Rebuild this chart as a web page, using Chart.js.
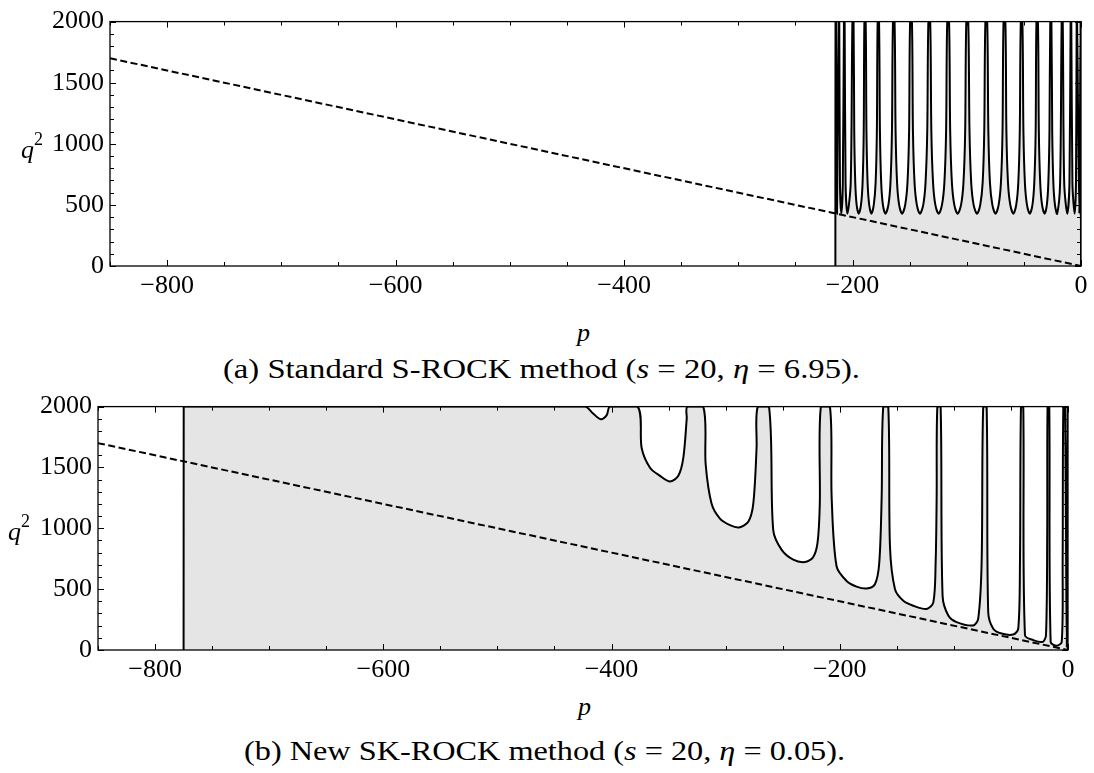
<!DOCTYPE html>
<html>
<head>
<meta charset="utf-8">
<title>S-ROCK / SK-ROCK mean-square stability regions</title>
<script src="https://cdn.jsdelivr.net/npm/chart.js@4.4.1/dist/chart.umd.min.js"></script>
<style>
  html, body { margin: 0; padding: 0; background: #fff; }
  body { position: relative; width: 1094px; height: 773px; overflow: hidden;
         font-family: "Liberation Serif", "Times New Roman", serif; color: #000; }
  canvas { position: absolute; left: 0; }
  #chartA { top: 0; }
  #chartB { top: 385px; }
  .txt { position: absolute; font-size: 26px; line-height: 26px; white-space: nowrap; }
  .txt sup { font-size: 18px; position: relative; top: -3px; }
  .cap { font-size: 27px; line-height: 27px; transform-origin: 0 50%; }
</style>
</head>
<body>
<canvas id="chartA" width="1094" height="300"></canvas>
<canvas id="chartB" width="1094" height="300"></canvas>

<div class="txt" style="left:21px; top:129px;"><i>q</i><sup>2</sup></div>
<div class="txt" style="left:577px; top:320px;"><i>p</i></div>
<div class="txt cap" id="capA" style="top:356px;">(a) Standard S-ROCK method (<i>s</i> = 20, <i>η</i> = 6.95).</div>

<div class="txt" style="left:8px; top:511px;"><i>q</i><sup>2</sup></div>
<div class="txt" style="left:578px; top:694px;"><i>p</i></div>
<div class="txt cap" id="capB" style="top:738px;">(b) New SK-ROCK method (<i>s</i> = 20, <i>η</i> = 0.05).</div>

<script>
// Axis ticks
const xTickValues = [-800, -600, -400, -200, 0];
const yTickValues = [0, 500, 1000, 1500, 2000];

// Dashed reference line q^2 = -2p
const dashedP = [-850, 0];
const dashedQ2 = [1700, 0];

// (a) Standard S-ROCK: boundary of the stability region
const sRockP = [
  -215.0, -214.9,
  -214.5, -213.6, -212.2,
  -211.6, -211.0, -209.8, -208.5, -207.5,
  -206.9, -206.1, -204.5, -201.6, -200.1,
  -199.1, -198.5, -197.6, -196.4, -194.6, -192.6, -191.2, -190.2, -189.6,
  -188.5, -187.8, -186.8, -185.4, -183.5, -181.4, -179.8, -178.7, -178.0,
  -176.8, -176.0, -174.9, -173.4, -171.2, -168.6, -166.8, -165.5, -164.6,
  -163.2, -162.3, -161.0, -159.2, -156.6, -153.9, -151.9, -150.5, -149.6,
  -148.0, -147.1, -145.7, -143.7, -141.0, -138.1, -136.1, -134.6, -133.6,
  -132.0, -131.0, -129.5, -127.5, -124.6, -121.7, -119.6, -118.1, -117.1,
  -115.5, -114.5, -113.0, -110.9, -108.0, -105.0, -102.9, -101.4, -100.4,
  -98.7, -97.6, -96.1, -94.0, -91.0, -88.2, -86.1, -84.7, -83.7,
  -82.1, -81.1, -79.7, -77.6, -74.8, -72.1, -70.1, -68.7, -67.8,
  -66.2, -65.3, -63.9, -61.9, -59.2, -56.7, -54.9, -53.6, -52.7,
  -51.3, -50.4, -49.1, -47.3, -44.8, -42.5, -40.9, -39.7, -39.0,
  -37.7, -36.9, -35.7, -34.1, -31.8, -29.9, -28.6, -27.6, -26.9,
  -25.9, -25.2, -24.2, -22.8, -20.9, -18.3, -16.9,
  -16.0, -14.7, -12.0, -10.1, -9.1,
  -8.5, -7.5, -5.6, -4.4, -3.8,
  -3.4, -1.5, -0.4,
  0
];
const sRockQ2 = [
  0, 2000,
  2000, 428, 2000,
  2000, 680, 428, 680, 2000,
  2000, 680, 428, 680, 2000,
  2000, 1100, 680, 500, 428, 500, 680, 1100, 2000,
  2000, 1100, 680, 500, 428, 500, 680, 1100, 2000,
  2000, 1100, 680, 500, 428, 500, 680, 1100, 2000,
  2000, 1100, 680, 500, 428, 500, 680, 1100, 2000,
  2000, 1100, 680, 500, 428, 500, 680, 1100, 2000,
  2000, 1100, 680, 500, 428, 500, 680, 1100, 2000,
  2000, 1100, 680, 500, 428, 500, 680, 1100, 2000,
  2000, 1100, 680, 500, 428, 500, 680, 1100, 2000,
  2000, 1100, 680, 500, 428, 500, 680, 1100, 2000,
  2000, 1100, 680, 500, 428, 500, 680, 1100, 2000,
  2000, 1100, 680, 500, 428, 500, 680, 1100, 2000,
  2000, 1100, 680, 500, 428, 500, 680, 1100, 2000,
  2000, 1100, 680, 500, 428, 680, 2000,
  2000, 680, 428, 680, 2000,
  2000, 680, 428, 680, 2000,
  2000, 428, 2000,
  0
];

// (b) New SK-ROCK: boundary of the stability region
const skRockP = [
  -775.0, -774.9, -774.8,
  -423.3, -416.1, -409.5, -404.2, -401.4,
  -377.1, -373.6, -366.3, -357.5, -348.8, -341.5, -337.1, -334.1, -333.6,
  -319.6, -317.5, -312.3, -305.0, -296.2, -288.3, -280.2, -275.8, -272.9, -271.9,
  -262.0, -258.3, -250.9, -240.7, -230.5, -223.5, -219.5, -217.5, -216.6,
  -208.6, -207.1, -202.8, -194.0, -185.3, -176.5, -169.2, -165.4, -163.3, -161.9,
  -157.5, -156.0, -151.6, -144.3, -135.6, -123.9, -118.0, -116.0, -115.1, -114.5,
  -111.6, -109.9, -104.9, -97.6, -83.1, -78.7, -75.7, -74.3,
  -71.3, -69.9, -65.5, -58.2, -48.0, -43.6, -42.1, -41.2,
  -39.2, -37.7, -30.4, -22.2, -19.3, -18.2, -17.9,
  -16.4, -15.2, -10.0, -5.5, -4.7, -4.1,
  -2.6, -1.1, -0.4,
  0
];
const skRockQ2 = [
  0, 2000, 2000,
  2000, 1943, 1897, 1930, 2000,
  2000, 1660, 1498, 1431, 1385, 1431, 1579, 1903, 2000,
  2000, 1525, 1201, 1080, 1026, 1007, 1053, 1201, 1660, 2000,
  2000, 985, 823, 742, 723, 760, 880, 1200, 2000,
  2000, 1255, 688, 567, 521, 505, 540, 715, 1255, 2000,
  2000, 850, 500, 405, 364, 337, 391, 715, 1255, 2000,
  2000, 445, 283, 229, 202, 256, 715, 2000,
  2000, 310, 175, 135, 127, 175, 715, 2000,
  2000, 121, 81, 67, 121, 985, 2000,
  2000, 67, 35, 67, 715, 2000,
  2000, 19, 2000,
  0
];

function toPoints(xs, ys) {
  return xs.map((x, i) => ({ x: x, y: ys[i] }));
}

function tickLabel(value) {
  return value < 0 ? '\u2212' + Math.abs(value) : String(value);
}

// Frame with inward ticks on all four sides (Mathematica style)
const frameTicks = {
  id: 'frameTicks',
  afterDatasetsDraw(chart) {
    const { ctx, chartArea: a, scales: { x, y } } = chart;
    const seg = (x1, y1, x2, y2) => {
      ctx.beginPath(); ctx.moveTo(x1, y1); ctx.lineTo(x2, y2); ctx.stroke();
    };
    ctx.save();
    ctx.strokeStyle = '#000';
    ctx.lineWidth = 1;
    for (let v = -850; v <= 0; v += 50) {
      const px = Math.round(x.getPixelForValue(v)) + 0.5;
      const len = v % 200 === 0 ? 6 : 4;
      seg(px, a.bottom, px, a.bottom - len);
      seg(px, a.top, px, a.top + len);
    }
    for (let v = 0; v <= 2000; v += 100) {
      const py = Math.round(y.getPixelForValue(v)) + 0.5;
      const len = v % 500 === 0 ? 6 : 4;
      seg(a.left, py, a.left + len, py);
      seg(a.right, py, a.right - len, py);
    }
    ctx.lineWidth = 1.3;
    ctx.strokeRect(a.left, a.top, a.right - a.left, a.bottom - a.top);
    ctx.restore();
  }
};

function makePanel(id, pValues, qValues, box) {
  const tickFont = { family: 'Liberation Serif', size: 26 };
  return new Chart(document.getElementById(id), {
    type: 'line',
    data: {
      datasets: [
        {
          data: toPoints(dashedP, dashedQ2),
          borderColor: '#000',
          borderWidth: 2,
          borderDash: [7, 3.5],
          pointRadius: 0,
          fill: false,
          tension: 0
        },
        {
          data: toPoints(pValues, qValues),
          borderColor: '#000',
          borderWidth: 2,
          pointRadius: 0,
          fill: 'origin',
          backgroundColor: '#e5e5e5',
          tension: 0.3
        }
      ]
    },
    options: {
      responsive: false,
      animation: false,
      devicePixelRatio: 1,
      layout: { padding: { left: 0, top: box.top, right: box.right, bottom: 0 } },
      plugins: { legend: { display: false }, tooltip: { enabled: false } },
      scales: {
        x: {
          type: 'linear', min: -850, max: 0,
          grid: { display: false, drawTicks: false },
          border: { display: false },
          afterBuildTicks: s => { s.ticks = xTickValues.map(v => ({ value: v })); },
          afterFit: s => { s.height = box.xHeight; },
          ticks: { font: tickFont, color: '#000', padding: 5, maxRotation: 0, autoSkip: false, callback: tickLabel }
        },
        y: {
          type: 'linear', min: 0, max: 2000,
          grid: { display: false, drawTicks: false },
          border: { display: false },
          afterBuildTicks: s => { s.ticks = yTickValues.map(v => ({ value: v })); },
          afterFit: s => { s.width = box.yWidth; },
          ticks: { font: tickFont, color: '#000', padding: 6, autoSkip: false, callback: tickLabel }
        }
      }
    },
    plugins: [frameTicks]
  });
}

// Stretch a caption horizontally so it spans the same width as in the figure
function fitCaption(id, left, width) {
  const el = document.getElementById(id);
  el.style.left = left + 'px';
  const w = el.getBoundingClientRect().width;
  el.style.transform = 'scaleX(' + (width / w).toFixed(4) + ')';
}

makePanel('chartA', sRockP, sRockQ2, { top: 18, right: 13, yWidth: 110, xHeight: 34 });
makePanel('chartB', skRockP, skRockQ2, { top: 18, right: 26, yWidth: 98, xHeight: 35 });
fitCaption('capA', 223, 637);
fitCaption('capB', 244, 601);
</script>
</body>
</html>
